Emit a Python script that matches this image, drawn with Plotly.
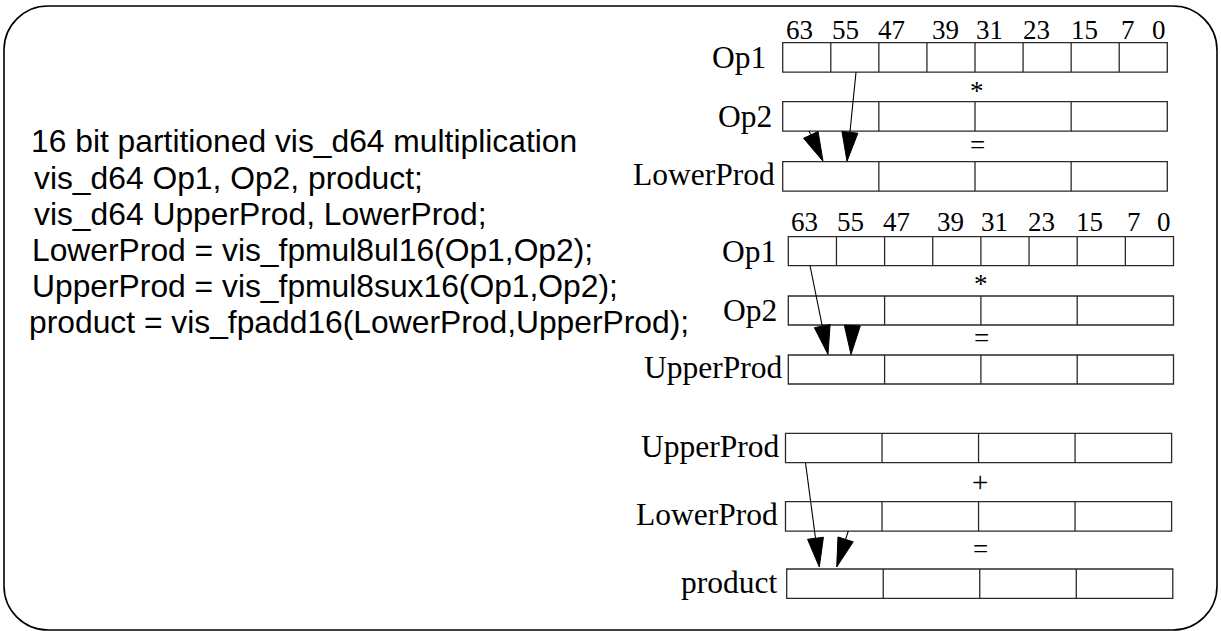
import math
import plotly.graph_objects as go

# ---------------- data ----------------
code_lines = [
    "16 bit partitioned vis_d64 multiplication",
    "vis_d64 Op1, Op2, product;",
    "vis_d64 UpperProd, LowerProd;",
    "LowerProd = vis_fpmul8ul16(Op1,Op2);",
    "UpperProd = vis_fpmul8sux16(Op1,Op2);",
    "product = vis_fpadd16(LowerProd,UpperProd);",
]
bit_labels = ["63", "55", "47", "39", "31", "23", "15", "7", "0"]

sec1_rows = ["Op1", "Op2", "LowerProd"]
sec1_cells = [8, 4, 4]
sec1_ops = ["*", "="]

sec2_rows = ["Op1", "Op2", "UpperProd"]
sec2_cells = [8, 4, 4]
sec2_ops = ["*", "="]

sec3_rows = ["UpperProd", "LowerProd", "product"]
sec3_cells = [4, 4, 4]
sec3_ops = ["+", "="]

# ---------------- layout geometry (pixels) ----------------
W, H = 1221, 631
code_x = [29, 32, 32, 30, 30, 27]
code_y = [141, 178, 214, 250, 286, 322]

bit_x_row1 = [799, 845, 891, 945, 989, 1036, 1084, 1128, 1158.5]

sections = [
    dict(rows=sec1_rows, cells=sec1_cells, ops=sec1_ops, bits=True,
         x0=782.7, x1=1167.3, tops=[42.7, 101.7, 161.7], h=29.5, row_dx=[0, 0, 0],
         bits_y=29.5, bits_dx=0, ops_x=977, ops_y=[91, 145],
         label_gap=[15, 9, 6], label_dy=[0.5, 0, -2],
         arrows=[((856, 72.3), (847, 161.2)), ((809, 131), (823, 161.2))]),
    dict(rows=sec2_rows, cells=sec2_cells, ops=sec2_ops, bits=True,
         x0=788.3, x1=1173.5, tops=[236.7, 296, 355], h=29, row_dx=[0, 0, 0],
         bits_y=222, bits_dx=5.6, ops_x=981, ops_y=[284, 338],
         label_gap=[10, 9, 4], label_dy=[0, 0, -2],
         arrows=[((810, 265.5), (828, 354.5)), ((852.3, 326), (851, 354.5))]),
    dict(rows=sec3_rows, cells=sec3_cells, ops=sec3_ops, bits=False,
         x0=785.5, x1=1171.6, tops=[433.3, 501.7, 569], h=29.4, row_dx=[0, 0, 1.2],
         bits_y=None, bits_dx=0, ops_x=980, ops_y=[482, 549],
         label_gap=[4.5, 5.5, 8], label_dy=[-2, -2, -1],
         arrows=[((805.5, 462.7), (819.3, 567)), ((848.3, 531), (836.7, 567))]),
]

BOX_COLOR = "#2a2a2a"
SERIF = "Liberation Serif, Times New Roman, serif"
SANS = "Liberation Sans, Arial, Helvetica, sans-serif"

shapes = []
annotations = []

# outer rounded border
L, T, R, B, r = 4, 6, 1217, 630, 44
k = 0.5523 * r
border = (f"M {L + r},{T} L {R - r},{T} C {R - r + k},{T} {R},{T + r - k} {R},{T + r} "
          f"L {R},{B - r} C {R},{B - r + k} {R - r + k},{B} {R - r},{B} "
          f"L {L + r},{B} C {L + r - k},{B} {L},{B - r + k} {L},{B - r} "
          f"L {L},{T + r} C {L},{T + r - k} {L + r - k},{T} {L + r},{T} Z")
shapes.append(dict(type="path", path=border, xref="x", yref="y",
                   line=dict(color="black", width=1.6)))

# code text
for txt, x, y in zip(code_lines, code_x, code_y):
    annotations.append(dict(x=x, y=y, text=txt, xref="x", yref="y", showarrow=False,
                            xanchor="left", yanchor="middle",
                            font=dict(family=SANS, size=31.8, color="black")))

def add_arrow(p0, p1, head_len=29, half_w=8):
    (x0, y0), (x1, y1) = p0, p1
    dx, dy = x1 - x0, y1 - y0
    d = math.hypot(dx, dy)
    ux, uy = dx / d, dy / d
    bx, by = x1 - ux * head_len, y1 - uy * head_len
    px, py = -uy, ux
    if d > head_len:
        shapes.append(dict(type="line", x0=x0, y0=y0, x1=bx, y1=by, xref="x", yref="y",
                           line=dict(color="black", width=1.1)))
    tri = (f"M {x1},{y1} L {bx + px * half_w},{by + py * half_w} "
           f"L {bx - px * half_w},{by - py * half_w} Z")
    shapes.append(dict(type="path", path=tri, xref="x", yref="y",
                       fillcolor="black", line=dict(color="black", width=1)))

for sec in sections:
    x0, x1, h = sec["x0"], sec["x1"], sec["h"]
    for i, (name, ncell, top) in enumerate(zip(sec["rows"], sec["cells"], sec["tops"])):
        rx0 = x0 + sec["row_dx"][i]
        rx1 = x1 + sec["row_dx"][i]
        shapes.append(dict(type="rect", x0=rx0, x1=rx1, y0=top, y1=top + h,
                           xref="x", yref="y", line=dict(color=BOX_COLOR, width=1.3)))
        cw = (rx1 - rx0) / ncell
        for c in range(1, ncell):
            xx = rx0 + c * cw
            shapes.append(dict(type="line", x0=xx, x1=xx, y0=top, y1=top + h,
                               xref="x", yref="y", line=dict(color=BOX_COLOR, width=1.3)))
        annotations.append(dict(x=rx0 - sec["label_gap"][i], y=top + h / 2 + sec["label_dy"][i],
                                text=name, xref="x", yref="y", showarrow=False,
                                xanchor="right", yanchor="middle",
                                font=dict(family=SERIF, size=31.5, color="black")))
    for op, oy in zip(sec["ops"], sec["ops_y"]):
        annotations.append(dict(x=sec["ops_x"], y=oy, text=op, xref="x", yref="y",
                                showarrow=False, xanchor="center", yanchor="middle",
                                font=dict(family=SERIF, size=29 if op == "+" else 27,
                                          color="black")))
    if sec["bits"]:
        for lab, bx in zip(bit_labels, bit_x_row1):
            annotations.append(dict(x=bx + sec["bits_dx"], y=sec["bits_y"], text=lab,
                                    xref="x", yref="y", showarrow=False,
                                    xanchor="center", yanchor="middle",
                                    font=dict(family=SERIF, size=27, color="black")))
    for p0, p1 in sec["arrows"]:
        add_arrow(p0, p1)

fig = go.Figure()
fig.add_trace(go.Scatter(x=[0, W], y=[0, H], mode="markers",
                         marker=dict(opacity=0), hoverinfo="skip", showlegend=False))
fig.update_layout(
    width=W, height=H, margin=dict(l=0, r=0, t=0, b=0),
    paper_bgcolor="white", plot_bgcolor="white",
    xaxis=dict(range=[0, W], visible=False, fixedrange=True),
    yaxis=dict(range=[H, 0], visible=False, fixedrange=True),
    shapes=shapes, annotations=annotations, showlegend=False,
)
fig.write_html("out.html", config={"displayModeBar": False})

# remove the default page margin so the figure sits at the window origin
with open("out.html", "r", encoding="utf-8") as f:
    page = f.read()
page = page.replace("<head>", "<head><style>html,body{margin:0;padding:0;overflow:hidden;}</style>", 1)
with open("out.html", "w", encoding="utf-8") as f:
    f.write(page)
